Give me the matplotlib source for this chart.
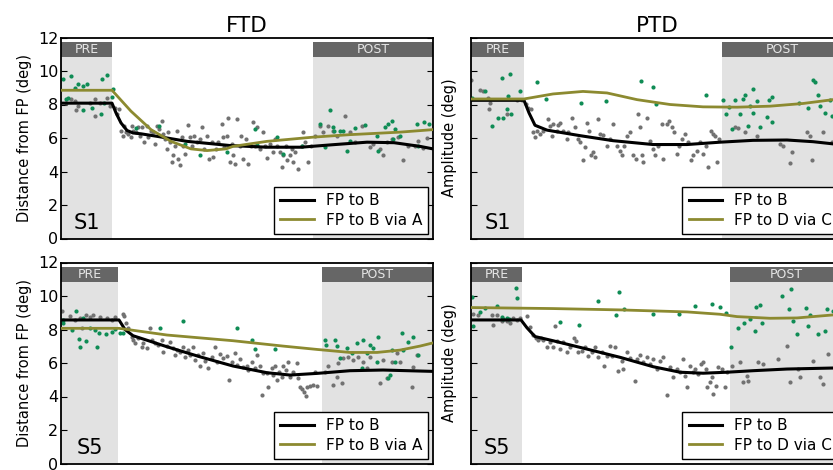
import numpy as np
import matplotlib
matplotlib.use('Agg')
import matplotlib.pyplot as plt

# x = trial index (unlabelled axis), y = deg
XMAX = 372

# ---------------- S1, FTD ----------------
ftd1_pre_end, ftd1_post_start = 51, 252
ftd1_gray = [(54,7.82),(56,7.42),(58,7.72),(60,6.44),(62,6.14),(63,6.69),(65,6.34),(67,6.24),(70,6.04),(71,6.73),
             (72,6.44),(75,6.34),(77,6.64),(79,6.14),(81,6.64),(83,5.75),(86,6.73),(87,6.04),(90,6.44),(92,6.34),
             (94,5.65),(96,6.73),(98,6.54),(101,7.03),(102,6.24),(104,5.94),(106,5.35),(107,6.34),(109,5.75),(111,4.56),
             (112,4.96),(114,5.55),(116,6.44),(117,4.76),(119,4.37),(121,6.04),(122,5.55),(124,5.06),(127,6.77),(129,6.04),
             (131,5.55),(133,6.14),(136,5.75),(139,5.94),(141,6.64),(143,5.35),(146,6.14),(148,4.76),(151,5.75),(152,4.86),
             (155,5.35),(157,5.75),(161,6.83),(162,6.04),(163,5.45),(166,6.14),(167,7.17),(169,4.56),(171,5.65),(172,4.96),
             (174,4.47),(176,7.13),(179,5.55),(180,6.10),(182,4.76),(185,5.94),(187,4.47),(190,5.55),(192,6.93),(194,5.55),
             (196,6.64),(199,5.35),(202,6.34),(204,5.55),(206,4.80),(209,5.65),(212,5.16),(214,5.94),(216,5.55),(219,5.16),
             (221,4.27),(222,4.96),(225,5.55),(226,4.66),(229,4.96),(231,5.35),(232,4.56),(234,5.16),(237,4.13),(241,5.55),
             (242,6.34),(244,5.75),(247,4.56),(250,5.55),(254,6.14),(259,6.73),(262,6.34),(267,6.73),(272,6.44),(276,6.14),
             (284,7.33),(289,6.34),(294,5.75),(301,6.73),(309,5.45),(312,5.65),(319,5.35),(322,4.96),(326,5.75),(331,5.94),
             (337,6.04),(342,4.66),(347,5.55),(354,5.55),(357,5.85),(362,5.40),(366,6.00),
             (5,8.10),(10,8.30),(14,8.20),(17,7.90),(15,7.66),(29,8.10),(34,8.30),(34,7.30),(39,8.10),(46,8.40),(49,7.90)]
ftd1_green = [(2,9.55),(5,8.35),(7,8.41),(10,9.69),(14,9.00),(17,9.20),(22,9.10),(26,9.20),(22,7.66),(31,7.82),
              (40,7.46),(41,9.55),(46,9.75),(51,8.45),(43,8.07),(52,8.90),(75,6.58),(98,6.69),(124,5.65),(139,5.00),
              (166,5.16),(194,6.54),(196,5.59),(216,6.04),(222,5.06),(241,5.55),(259,6.83),(264,5.45),(269,7.68),(272,6.64),
              (273,6.44),(279,6.44),(282,6.44),(286,5.25),(289,5.85),(294,6.60),(304,6.77),(316,6.14),(317,5.25),(324,6.64),
              (327,6.83),(331,7.03),(334,6.54),(332,5.94),(339,6.14),(356,6.83),(357,5.55),(363,6.95),(368,6.85)]
ftd1_black = [(0,8.08),(51,8.08),(55,7.5),(60,6.9),(66,6.45),(72,6.3),(80,6.25),(96,6.1),(126,5.8),(169,5.55),
              (206,5.45),(240,5.45),(272,5.6),(306,5.75),(333,5.72),(359,5.5),(372,5.35)]
ftd1_olive = [(0,8.85),(51,8.85),(70,7.6),(90,6.5),(110,5.8),(130,5.35),(146,5.25),(165,5.35),(172,5.5),(206,5.8),
              (252,6.05),(289,6.2),(339,6.35),(372,6.5)]

# ---------------- S5, FTD ----------------
ftd5_pre_end, ftd5_post_start = 57, 261
ftd5_gray = [(1,9.10),(9,8.80),(14,8.57),(19,8.67),(25,8.86),(29,8.76),(32,8.84),(39,8.72),(46,8.67),(51,8.57),(54,8.72),
             (21,8.07),(62,8.92),(63,8.80),(65,8.37),(67,8.07),(71,7.57),(72,7.37),(74,7.17),(77,7.47),(81,6.97),(82,7.21),
             (86,6.87),(89,8.07),(91,7.37),(94,7.17),(97,7.07),(101,7.37),(102,6.67),(106,7.01),(109,7.27),(112,6.87),
             (114,6.47),(116,6.77),(119,6.67),(122,6.97),(124,6.37),(127,6.77),(129,6.47),(132,6.97),(134,6.17),(137,6.47),
             (139,5.82),(142,6.57),(144,6.14),(147,5.68),(151,6.37),(154,6.97),(156,6.07),(159,6.53),(162,6.27),(166,6.41),
             (168,5.00),(171,6.07),(174,6.57),(176,5.88),(179,6.21),(182,5.74),(186,5.82),(187,5.58),(191,6.07),(194,5.68),
             (196,6.47),(199,5.82),(201,4.08),(202,5.38),(206,5.42),(207,4.58),(211,5.68),(212,5.28),(214,5.84),(216,5.00),
             (218,5.48),(221,5.18),(222,5.84),(225,5.58),(227,6.07),(229,5.18),(232,5.48),(236,6.01),(237,5.08),(239,4.58),
             (241,4.42),(243,4.28),(245,4.02),(246,4.58),(249,4.62),(252,4.68),(256,4.62),(254,5.48),(264,5.48),(267,5.84),
             (272,4.70),(276,5.18),(277,6.01),(281,4.78),(282,6.27),(287,6.37),(292,6.17),(297,6.37),(302,6.07),(306,5.68),
             (309,6.37),(319,4.78),(322,6.17),(326,5.08),(331,6.07),(336,6.57),(339,6.07),(351,4.58),(356,6.47),(352,5.78)]
ftd5_green = [(2,8.57),(2,8.40),(11,7.97),(15,9.10),(18,7.43),(19,6.97),(22,8.67),(25,7.33),(29,8.07),(36,6.97),
              (34,7.97),(38,7.81),(45,7.73),(51,7.87),(54,8.01),(59,7.81),(62,7.81),(99,8.07),(122,8.51),(176,8.07),
              (191,7.37),(194,6.83),(214,6.83),(264,7.37),(265,7.07),(274,7.37),(276,7.01),(279,6.27),(286,6.87),(291,6.57),
              (296,7.17),(301,5.68),(302,7.37),(306,6.57),(309,7.07),(312,6.87),(316,6.07),(317,7.57),(327,5.08),(331,6.77),
              (329,5.28),(334,6.07),(341,7.77),(342,6.77),(347,7.27),(352,7.57),(357,6.47)]
ftd5_black = [(0,8.57),(58,8.57),(64,8.0),(72,7.63),(106,6.97),(139,6.37),(172,5.82),(206,5.42),(229,5.28),(256,5.38),
              (289,5.54),(322,5.58),(359,5.52),(372,5.5)]
ftd5_olive = [(0,8.07),(58,8.07),(106,7.67),(172,7.33),(222,7.01),(256,6.81),(289,6.63),(316,6.63),(339,6.77),
              (359,7.01),(372,7.2)]

# ---------------- S1, PTD ----------------
ptd1_pre_end, ptd1_post_start = 53, 251
ptd1_gray = [(0,9.47),(9,8.88),(12,8.78),(17,8.39),(19,8.10),(18,7.71),(36,7.41),(46,8.29),(51,8.29),(55,8.04),(57,7.80),
             (60,7.71),(62,6.33),(64,6.04),(66,6.43),(69,6.24),(72,6.43),(77,7.12),(79,6.73),(81,6.10),(82,6.82),(86,6.43),
             (87,6.76),(89,6.92),(92,6.43),(96,5.94),(97,6.33),(101,7.22),(104,6.63),(107,5.94),(109,5.75),(112,4.67),
             (114,5.45),(116,6.92),(118,6.43),(120,4.96),(122,5.16),(124,4.86),(127,7.12),(129,6.24),(132,6.18),(136,5.55),
             (139,5.94),(142,6.82),(146,5.55),(149,5.25),(151,4.96),(153,5.55),(156,6.14),(159,6.33),(162,4.96),(165,4.76),
             (167,7.41),(169,6.63),(171,4.96),(172,4.57),(176,7.22),(179,5.84),(182,5.35),(184,4.96),(187,5.55),(191,6.82),
             (192,4.76),(196,6.82),(198,7.02),(201,6.63),(203,6.33),(206,5.06),(208,5.55),(211,5.94),(214,6.24),(217,5.75),
             (220,4.67),(222,4.96),(226,5.25),(229,5.75),(232,5.06),(235,5.55),(237,4.27),(240,6.43),(242,6.24),(244,6.14),
             (246,4.57),(248,5.94),(264,6.63),(267,6.57),(274,6.33),(286,6.14),(309,5.65),(312,5.55),(319,4.53),(321,5.16),
             (336,6.33),(339,6.14),(341,4.67),(352,6.33),(361,5.75)]
ptd1_green = [(1,8.39),(14,8.78),(21,6.73),(27,7.22),(31,9.57),(32,7.22),(36,7.71),(37,8.49),(39,9.82),(40,7.41),
              (49,8.78),(66,9.37),(75,8.33),(110,8.10),(135,8.20),(170,9.43),(182,9.04),(185,8.04),(235,8.55),(252,8.29),
              (255,7.41),(258,7.86),(261,6.53),(264,8.25),(269,7.41),(272,8.33),(274,8.59),(277,6.73),(279,7.90),(282,8.92),
              (282,7.47),(286,8.20),(289,6.63),(296,7.27),(298,8.29),(301,8.45),(301,6.96),(328,8.06),(337,7.80),(342,9.47),
              (344,9.37),(347,8.59),(349,7.94),(354,7.51),(361,7.31),(359,8.29)]
ptd1_black = [(0,8.25),(53,8.25),(58,7.5),(64,6.76),(76,6.47),(109,6.14),(142,5.84),(182,5.61),(216,5.61),(249,5.75),
              (282,5.86),(316,5.88),(342,5.78),(362,5.65),(372,5.55)]
ptd1_olive = [(0,8.33),(53,8.33),(82,8.63),(112,8.78),(136,8.69),(166,8.29),(199,8.0),(232,7.86),(266,7.84),(299,7.9),
              (332,8.06),(362,8.29),(372,8.35)]

# ---------------- S5, PTD ----------------
ptd5_pre_end, ptd5_post_start = 51, 259
ptd5_gray = [(2,8.91),(7,8.87),(21,8.87),(26,8.87),(22,8.28),(31,8.51),(36,8.48),(39,8.36),(42,8.67),(46,8.55),(49,8.67),
             (56,8.81),(59,8.12),(62,7.68),(65,7.49),(67,7.37),(70,7.52),(72,7.37),(76,6.93),(79,7.23),(82,6.93),(84,8.22),
             (86,7.33),(89,6.83),(92,7.23),(96,6.63),(99,6.93),(103,7.52),(105,7.33),(107,6.63),(111,6.73),(114,6.97),
             (117,6.44),(121,6.63),(124,6.93),(127,6.34),(131,6.63),(133,5.84),(136,6.44),(139,7.03),(141,6.44),(144,6.93),
             (147,5.54),(151,6.14),(152,5.64),(156,6.63),(159,6.30),(164,4.95),(166,6.24),(169,6.50),(172,6.04),(176,6.34),
             (179,5.94),(182,6.24),(186,5.64),(189,6.14),(192,6.38),(196,4.06),(199,5.74),(202,5.15),(206,5.64),(209,5.45),
             (212,6.24),(214,5.25),(216,4.55),(219,5.84),(222,5.45),(224,5.64),(227,5.35),(230,5.94),(232,6.04),(235,5.64),
             (236,4.55),(239,4.85),(241,5.15),(242,4.16),(245,4.65),(247,5.74),(251,5.64),(254,4.55),(256,5.45),(261,5.84),
             (269,6.04),(272,4.85),(277,4.95),(276,5.25),(287,6.04),(292,5.94),(307,6.24),(316,7.03),(319,4.85),(327,5.64),
             (329,5.15),(342,6.14),(349,5.15),(352,4.75),(357,6.53)]
ptd5_green = [(1,9.94),(2,8.22),(9,9.07),(14,9.31),(26,9.41),(31,8.75),(32,8.61),(36,8.67),(38,8.61),(45,10.5),(46,9.86),
              (89,8.42),(108,8.28),(127,9.70),(145,8.87),(148,10.26),(153,9.25),(182,8.95),(208,8.91),(224,9.39),(241,9.50),
              (249,9.35),(255,9.01),(260,6.93),(267,8.08),(273,8.36),(279,8.61),(284,7.92),(285,9.35),(289,9.47),(291,8.36),
              (311,10.0),(318,9.21),(320,10.4),(322,8.51),(326,7.72),(335,9.31),(337,8.22),(339,8.87),(347,7.72),(354,7.92),
              (356,9.21),(362,9.11)]
ptd5_black = [(0,8.57),(50,8.57),(56,8.1),(64,7.58),(82,7.33),(116,6.83),(149,6.34),(182,5.78),(209,5.45),(232,5.39),
              (256,5.45),(282,5.54),(316,5.64),(362,5.70),(372,5.72)]
ptd5_olive = [(0,9.31),(82,9.25),(149,9.17),(216,9.05),(249,8.91),(266,8.77),(299,8.67),(326,8.69),(362,8.87),(372,8.9)]

titles = ['FTD', 'PTD']
subjects = ['S1', 'S5']
ylabels = ['Distance from FP (deg)', 'Amplitude (deg)']
legend_labels = [['FP to B', 'FP to B via A'], ['FP to B', 'FP to D via C']]

panels = [
    [(ftd1_pre_end, ftd1_post_start, ftd1_gray, ftd1_green, ftd1_black, ftd1_olive),
     (ptd1_pre_end, ptd1_post_start, ptd1_gray, ptd1_green, ptd1_black, ptd1_olive)],
    [(ftd5_pre_end, ftd5_post_start, ftd5_gray, ftd5_green, ftd5_black, ftd5_olive),
     (ptd5_pre_end, ptd5_post_start, ptd5_gray, ptd5_green, ptd5_black, ptd5_olive)],
]

SHADE = '#e2e2e2'
BAR = '#666666'
GRAY_DOT = '#727272'
GREEN_DOT = '#0f8c55'
OLIVE = '#8c8a30'

fig = plt.figure(figsize=(8.33, 4.70), dpi=100)
W, H = 833.0, 470.0
lefts = [61, 471]
tops = [37.5, 262.5]
pw, ph = 372, 201

for r in range(2):
    for c in range(2):
        pre_end, post_start, gray, green, black, olive = panels[r][c]
        ax = fig.add_axes([lefts[c] / W, 1 - (tops[r] + ph) / H, pw / W, ph / H])
        ax.set_xlim(0, XMAX)
        ax.set_ylim(0, 12)

        # shaded PRE / POST blocks with label bars
        for x0, x1, lab in [(0, pre_end, 'PRE'), (post_start, XMAX, 'POST')]:
            ax.fill_between([x0, x1], 0, 10.84, color=SHADE, lw=0, zorder=0)
            ax.fill_between([x0, x1], 10.84, 11.76, color=BAR, lw=0, zorder=0)
            ax.text((x0 + x1) / 2, 11.3, lab, color='#e6e6e6', fontsize=9,
                    ha='center', va='center', zorder=1)

        g = np.array(gray)
        e = np.array(green)
        ax.scatter(g[:, 0], g[:, 1], s=9, color=GRAY_DOT, lw=0, zorder=2)
        ax.scatter(e[:, 0], e[:, 1], s=9, color=GREEN_DOT, lw=0, zorder=2)

        b = np.array(black)
        o = np.array(olive)
        ax.plot(b[:, 0], b[:, 1], color='black', lw=2.2, zorder=3, label=legend_labels[c][0])
        ax.plot(o[:, 0], o[:, 1], color=OLIVE, lw=2.0, zorder=3, label=legend_labels[c][1])

        ax.text(pre_end / 2, 0.3, subjects[r], fontsize=15, ha='center', va='bottom', zorder=4)

        leg = ax.legend(loc='lower right', fontsize=11, fancybox=False, framealpha=1,
                        borderaxespad=0.3, handlelength=2.2, labelspacing=0.3)
        leg.get_frame().set_edgecolor('black')
        leg.get_frame().set_linewidth(1.0)
        leg.set_zorder(5)

        ax.set_xticks([])
        ax.set_yticks(np.arange(0, 13, 2))
        ax.tick_params(axis='y', direction='in', right=True, length=4, labelsize=11.5, pad=2)
        if c == 1:
            ax.set_yticklabels([])
        ax.set_ylabel(ylabels[c], fontsize=10.5, labelpad=4 if c == 0 else 8)
        for s in ax.spines.values():
            s.set_linewidth(1.3)
        if r == 0:
            ax.set_title(titles[c], fontsize=15.5, pad=4)

fig.savefig('out.png', dpi=100)
